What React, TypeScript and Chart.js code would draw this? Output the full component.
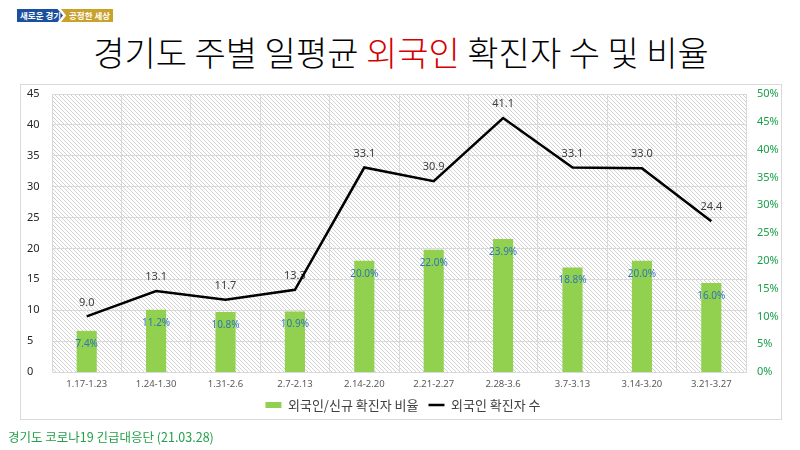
import { useEffect, useRef } from "react";
import { Chart, registerables } from "chart.js";

Chart.register(...registerables);

// Weekly periods (x-axis)
const periods = [
  "1.17-1.23",
  "1.24-1.30",
  "1.31-2.6",
  "2.7-2.13",
  "2.14-2.20",
  "2.21-2.27",
  "2.28-3.6",
  "3.7-3.13",
  "3.14-3.20",
  "3.21-3.27",
];

// Daily average of foreign confirmed cases (left axis)
const foreignCases = [9.0, 13.1, 11.7, 13.3, 33.1, 30.9, 41.1, 33.1, 33.0, 24.4];

// Share of foreigners among new confirmed cases, % (right axis)
const foreignShare = [7.4, 11.2, 10.8, 10.9, 20.0, 22.0, 23.9, 18.8, 20.0, 16.0];

// Axis ranges
const caseAxisMax = 45;
const shareAxisMax = 50;
const tickStep = 5;

const KR_FONT = '"Noto Sans CJK KR", "Noto Sans", sans-serif';
const NUM_FONT = '"Noto Sans", "Noto Sans CJK KR", sans-serif';

function makeHatch(): CanvasPattern | string {
  const size = 4;
  const tile = document.createElement("canvas");
  tile.width = size;
  tile.height = size;
  const t = tile.getContext("2d");
  if (!t) return "#eeeeee";
  t.fillStyle = "#ffffff";
  t.fillRect(0, 0, size, size);
  t.strokeStyle = "#d2d2d2";
  t.lineWidth = 1;
  t.beginPath();
  t.moveTo(0, 0);
  t.lineTo(size, size);
  t.moveTo(-1, size - 1);
  t.lineTo(1, size + 1);
  t.moveTo(size - 1, -1);
  t.lineTo(size + 1, 1);
  t.stroke();
  const p = t.createPattern(tile, "repeat");
  return p || "#eeeeee";
}

// Diagonal hatch behind the plot area
const hatchBackground = {
  id: "hatchBackground",
  beforeDraw(chart: any) {
    const { ctx, chartArea } = chart;
    if (!chartArea) return;
    ctx.save();
    ctx.fillStyle = makeHatch();
    ctx.fillRect(
      chartArea.left,
      chartArea.top,
      chartArea.right - chartArea.left,
      chartArea.bottom - chartArea.top
    );
    ctx.restore();
  },
};

// Value labels: drawn right after the bars so the line passes over them
const valueLabels = {
  id: "valueLabels",
  afterDatasetDraw(chart: any, args: any) {
    if (args.index !== 0) return;
    const ctx = chart.ctx;
    const barMeta = chart.getDatasetMeta(0);
    const lineMeta = chart.getDatasetMeta(1);
    ctx.save();
    ctx.textAlign = "center";
    ctx.textBaseline = "middle";
    ctx.font = `10px ${NUM_FONT}`;
    ctx.fillStyle = "#2e75b6";
    barMeta.data.forEach((el: any, i: number) => {
      ctx.fillText(foreignShare[i].toFixed(1) + "%", el.x, el.y + 13);
    });
    ctx.font = `11px ${NUM_FONT}`;
    ctx.fillStyle = "#404040";
    lineMeta.data.forEach((el: any, i: number) => {
      ctx.fillText(foreignCases[i].toFixed(1), el.x, el.y - 14);
    });
    ctx.restore();
  },
};

function ForeignCasesChart() {
  const canvasRef = useRef<HTMLCanvasElement | null>(null);

  useEffect(() => {
    const canvas = canvasRef.current;
    if (!canvas) return;
    const chart = new Chart(canvas, {
      type: "bar",
      data: {
        labels: periods,
        datasets: [
          {
            type: "bar",
            label: "외국인/신규 확진자 비율",
            data: foreignShare,
            yAxisID: "y1",
            backgroundColor: "#92d050",
            borderWidth: 0,
            barPercentage: 0.29,
            categoryPercentage: 1,
            pointStyle: "rect",
            order: 1,
          } as any,
          {
            type: "line",
            label: "외국인 확진자 수",
            data: foreignCases,
            yAxisID: "y",
            borderColor: "#000000",
            backgroundColor: "#000000",
            borderWidth: 2.5,
            pointRadius: 0,
            tension: 0,
            pointStyle: "line",
            order: 0,
          } as any,
        ],
      },
      options: {
        responsive: false,
        animation: false,
        layout: { padding: { left: 27, right: 21, top: 94, bottom: 28.5 } },
        plugins: {
          tooltip: { enabled: false },
          legend: {
            position: "bottom",
            labels: {
              usePointStyle: true,
              pointStyleWidth: 16,
              boxWidth: 16,
              boxHeight: 6,
              padding: 10,
              color: "#404040",
              font: { size: 13, family: KR_FONT },
              sort: (a: any, b: any) => a.datasetIndex - b.datasetIndex,
            },
          },
        },
        scales: {
          x: {
            offset: true,
            grid: { color: "#d9d9d9", drawTicks: false, offset: true },
            border: { color: "#d9d9d9" },
            ticks: {
              color: "#595959",
              font: { size: 9.5, family: NUM_FONT },
              padding: 7,
              maxRotation: 0,
              autoSkip: false,
            },
            afterFit: (s: any) => {
              s.height = 16.5;
            },
          },
          y: {
            position: "left",
            min: 0,
            max: caseAxisMax,
            ticks: {
              stepSize: tickStep,
              color: "#262626",
              font: { size: 11, family: NUM_FONT },
              crossAlign: "far",
              padding: 0,
            },
            grid: { color: "#d9d9d9", drawTicks: false },
            border: { display: false },
            afterFit: (s: any) => {
              s.width = 25;
            },
          },
          y1: {
            position: "right",
            min: 0,
            max: shareAxisMax,
            ticks: {
              stepSize: tickStep,
              color: "#1aa04a",
              font: { size: 11, family: NUM_FONT },
              padding: 11,
              callback: (v: any) => `${v}%`,
            },
            grid: { display: false, drawTicks: false },
            border: { display: false },
            afterFit: (s: any) => {
              s.width = 33;
            },
          },
        },
      },
      plugins: [hatchBackground, valueLabels],
    });
    return () => chart.destroy();
  }, []);

  return (
    <canvas
      ref={canvasRef}
      width={800}
      height={450}
      style={{ position: "absolute", left: 0, top: 0, width: 800, height: 450 }}
    />
  );
}

export default function App() {
  return (
    <div
      style={{
        position: "absolute",
        left: 0,
        top: 0,
        width: 800,
        height: 450,
        overflow: "hidden",
        background: "#ffffff",
        fontFamily: KR_FONT,
      }}
    >
      {/* slogan badges */}
      <div
        style={{
          position: "absolute",
          left: 17,
          top: 9,
          width: 46,
          height: 13,
          background: "#1b4f9f",
          clipPath: "polygon(0 0, 88% 0, 100% 50%, 88% 100%, 0 100%)",
          color: "#ffffff",
          fontSize: 8.5,
          fontWeight: 700,
          lineHeight: "13px",
          paddingLeft: 3,
          boxSizing: "border-box",
          whiteSpace: "nowrap",
        }}
      >
        새로운 경기
      </div>
      <div
        style={{
          position: "absolute",
          left: 61,
          top: 9,
          width: 52,
          height: 13,
          background: "#c9a22c",
          clipPath: "polygon(0 0, 100% 0, 100% 100%, 0 100%, 10% 50%)",
          color: "#ffffff",
          fontSize: 8.5,
          fontWeight: 700,
          lineHeight: "13px",
          paddingLeft: 8,
          boxSizing: "border-box",
          whiteSpace: "nowrap",
        }}
      >
        공정한 세상
      </div>

      {/* title */}
      <div
        style={{
          position: "absolute",
          left: 0,
          top: 35,
          width: 802,
          textAlign: "center",
          fontSize: 34,
          fontWeight: 300,
          lineHeight: "34px",
          color: "#000000",
          whiteSpace: "nowrap",
        }}
      >
        경기도 주별 일평균 <span style={{ color: "#d40000" }}>외국인</span> 확진자 수 및 비율
      </div>

      {/* chart frame */}
      <div
        style={{
          position: "absolute",
          left: 20,
          top: 84,
          width: 762,
          height: 336,
          border: "1px solid #d9d9d9",
          boxSizing: "border-box",
        }}
      />

      <ForeignCasesChart />

      {/* source */}
      <div
        style={{
          position: "absolute",
          left: 8,
          top: 428,
          fontSize: 12.5,
          lineHeight: "18px",
          color: "#22a04a",
          whiteSpace: "nowrap",
        }}
      >
        경기도 코로나19 긴급대응단 (21.03.28)
      </div>
    </div>
  );
}
